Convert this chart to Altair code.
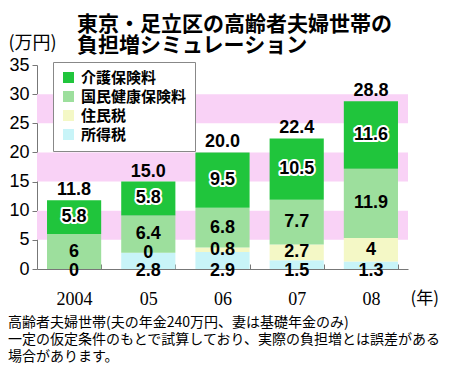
import altair as alt
import pandas as pd

# ---- data ----
years = ["2004", "05", "06", "07", "08"]
series = ["介護保険料", "国民健康保険料", "住民税", "所得税"]          # legend order
stack_order = ["所得税", "住民税", "国民健康保険料", "介護保険料"]     # bottom -> top
colors = ["#20c53c", "#9ddf9d", "#f4f8c6", "#c8f4f8"]

income_tax = [0, 2.8, 2.9, 1.5, 1.3]
resident_tax = [0, 0, 0.8, 2.7, 4]
health_ins = [6, 6.4, 6.8, 7.7, 11.9]
care_ins = [5.8, 5.8, 9.5, 10.5, 11.6]
totals = [11.8, 15.0, 20.0, 22.4, 28.8]

income_labels = ["0", "2.8", "2.9", "1.5", "1.3"]
resident_labels = ["", "0", "0.8", "2.7", "4"]
health_labels = ["6", "6.4", "6.8", "7.7", "11.9"]
care_labels = ["5.8", "5.8", "9.5", "10.5", "11.6"]
total_labels = ["11.8", "15.0", "20.0", "22.4", "28.8"]

y_ticks = [0, 5, 10, 15, 20, 25, 30, 35]
band_lo = [5, 15, 25]
band_hi = [10, 20, 30]

title_lines = ["東京・足立区の高齢者夫婦世帯の", "負担増シミュレーション"]
note_lines = [
    "高齢者夫婦世帯(夫の年金240万円、妻は基礎年金のみ)",
    "一定の仮定条件のもとで試算しており、実際の負担増とは誤差がある",
    "場合があります。",
]

# ---- build tables ----
vals = {"所得税": income_tax, "住民税": resident_tax,
        "国民健康保険料": health_ins, "介護保険料": care_ins}
labs = {"所得税": income_labels, "住民税": resident_labels,
        "国民健康保険料": health_labels, "介護保険料": care_labels}
rows = []
for i, yr in enumerate(years):
    base = 0.0
    for s in stack_order:
        v = vals[s][i]
        rows.append({"year": yr, "series": s, "y0": base, "y1": base + v,
                     "mid": base + v / 2, "label": labs[s][i]})
        base += v
df = pd.DataFrame(rows)
tot = pd.DataFrame({"year": years, "total": totals, "label": total_labels})
bands = pd.DataFrame({"lo": band_lo, "hi": band_hi})

W, H = 371, 204
AX = "#777777"
NUM_FONT = "Liberation Sans"
JP = "Noto Sans CJK JP"

xscale = alt.Scale(domain=years, paddingInner=0.27, paddingOuter=0.135)
yscale = alt.Scale(domain=[0, 35], nice=False)

x_axis = alt.Axis(
    title="(年)", titleX=373, titleY=29, titleAlign="left", titleBaseline="middle",
    titleFont=JP, titleFontSize=17, titleFontWeight="normal", titleColor="black",
    labelAngle=0, labelFont="Liberation Serif", labelFontSize=18, labelColor="black",
    labelPadding=26, tickBand="extent", tickSize={"expr": "-5"}, tickColor=AX,
    domainColor=AX, grid=False, labelOverlap=False)
y_axis = alt.Axis(
    values=y_ticks, title="(万円)", titleAngle=0, titleX=-29, titleY=-22,
    titleAlign="left", titleBaseline="middle", titleFont=JP, titleFontSize=18,
    titleFontWeight="normal", titleColor="black",
    labelFont=NUM_FONT, labelFontSize=18, labelColor="black", labelPadding=3,
    labelOverlap=False, labelFlush=False,
    tickSize=5, tickColor=AX, domainColor=AX, grid=False)

def xe():
    return alt.X("year:N", scale=xscale, sort=years, axis=x_axis)

def ye(field):
    return alt.Y(field, scale=yscale, axis=y_axis)

pink = alt.Chart(bands).mark_rect(color="#f9d2f6").encode(
    x=alt.value(0), x2=alt.value(W),
    y=ye("lo:Q"), y2="hi:Q")

bars = alt.Chart(df).mark_bar().encode(
    x=xe(), y=ye("y1:Q"), y2="y0:Q",
    color=alt.Color("series:N", scale=alt.Scale(domain=series, range=colors),
                    legend=alt.Legend(
                        title=None, orient="none", legendX=16, legendY=-3,
                        direction="vertical", fillColor="white", strokeColor="#888888",
                        padding=8, symbolType="square", symbolSize=121,
                        symbolStrokeWidth=0, labelFont=JP, labelFontSize=15,
                        labelFontWeight="bold", labelColor="black", rowPadding=3,
                        labelOffset=5)),
)

txt_kw = dict(font=NUM_FONT, fontSize=18, fontWeight="bold", color="black",
              baseline="middle", align="center")

mid_labels = alt.Chart(df).transform_filter(
    "datum.series == '住民税' || datum.series == '国民健康保険料'"
).mark_text(**txt_kw).encode(x=xe(), y=ye("mid:Q"), text="label:N")

income_lbl = alt.Chart(df).transform_filter("datum.series == '所得税'").mark_text(
    dy=2, **txt_kw).encode(
    x=xe(), y=alt.YDatum(0, scale=yscale, axis=y_axis), text="label:N")

care_halo = alt.Chart(df).transform_filter("datum.series == '介護保険料'").mark_text(
    stroke="white", strokeWidth=4, strokeJoin="round", **txt_kw).encode(
    x=xe(), y=ye("mid:Q"), text="label:N")
care_lbl = alt.Chart(df).transform_filter("datum.series == '介護保険料'").mark_text(
    **txt_kw).encode(x=xe(), y=ye("mid:Q"), text="label:N")

total_lbl = alt.Chart(tot).mark_text(dy=-10, **txt_kw).encode(
    x=xe(), y=ye("total:Q"), text="label:N")

one = pd.DataFrame({"a": [0]})
title_txt = alt.Chart(one).mark_text(
    text=title_lines, font=JP, fontSize=21, fontWeight="bold", color="black",
    align="left", baseline="top", lineHeight=21).encode(
    x=alt.value(40), y=alt.value(-51))
note_txt = alt.Chart(one).mark_text(
    text=note_lines, font=JP, fontSize=14, color="black",
    align="left", baseline="top", lineHeight=17).encode(
    x=alt.value(-29), y=alt.value(251))

chart = alt.layer(
    pink, bars, mid_labels, income_lbl, care_halo, care_lbl, total_lbl,
    title_txt, note_txt
).properties(
    width=W, height=H, autosize="none",
    padding={"left": 29, "top": 57, "right": 34, "bottom": 95},
    background="white",
).configure_view(stroke=None)

chart.save("out.html", embed_options={"renderer": "svg", "actions": False})
